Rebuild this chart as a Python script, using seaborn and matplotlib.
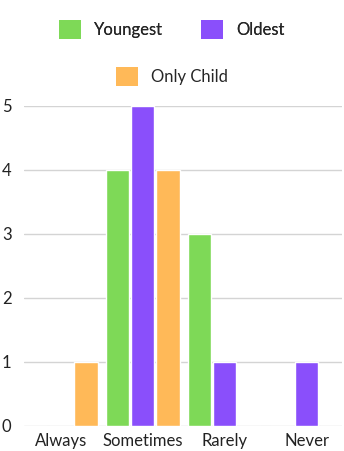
import matplotlib
matplotlib.use("Agg")
import matplotlib.pyplot as plt
from matplotlib.patches import Patch
import seaborn as sns
import pandas as pd

categories = ["Always", "Sometimes", "Rarely", "Never"]
series = ["Youngest", "Oldest", "Only Child"]
youngest = [0, 4, 3, 0]
oldest = [0, 5, 1, 1]
only_child = [1, 4, 0, 0]
colors = ["#7ED957", "#8A4FFB", "#FFB958"]

rows = []
for name, vals in zip(series, [youngest, oldest, only_child]):
    for cat, v in zip(categories, vals):
        rows.append({"answer": cat, "group": name, "count": v})
df = pd.DataFrame(rows)

sns.set_theme(style="white")
plt.rcParams["font.family"] = ["Lato", "DejaVu Sans"]

fig = plt.figure(figsize=(3.44, 4.51), dpi=100)
ax = fig.add_axes([24 / 344, 25 / 451, 318 / 344, 320 / 451])

sns.barplot(data=df, x="answer", y="count", hue="group", order=categories,
            hue_order=series, palette=colors, width=0.92, gap=0.08,
            saturation=1, legend=False, ax=ax, zorder=3)

ax.set_xlim(-0.45, 3.43)
ax.set_ylim(0, 5)
ax.set_yticks(range(0, 6))
ax.yaxis.grid(True, color="#d4d4d4", linewidth=1, zorder=0)
ax.set_axisbelow(True)
for s in ax.spines.values():
    s.set_visible(False)
ax.set_xlabel("")
ax.set_ylabel("")
ax.tick_params(axis="both", length=0, labelsize=12, colors="#222222")
ax.tick_params(axis="x", pad=5)
ax.yaxis.set_tick_params(pad=0)
for lab in ax.get_yticklabels():
    lab.set_horizontalalignment("left")
    lab.set_transform(ax.get_yaxis_transform())
    lab.set_x(-22 / 318)

handles = [Patch(facecolor=c, edgecolor="none") for c in colors]
common = dict(frameon=False, fontsize=12, handlelength=1.3,
              handleheight=1.3, handletextpad=0.8, borderpad=0)
leg1 = fig.legend(handles[:2], series[:2], ncol=2, loc="center",
                  bbox_to_anchor=(0.5, 1 - 29.5 / 451),
                  columnspacing=2.3, **common)
leg2 = fig.legend(handles[2:], series[2:], loc="center",
                  bbox_to_anchor=(0.5, 1 - 76.5 / 451), **common)
fig.add_artist(leg1)

fig.savefig("out.png", dpi=100, facecolor="white")
